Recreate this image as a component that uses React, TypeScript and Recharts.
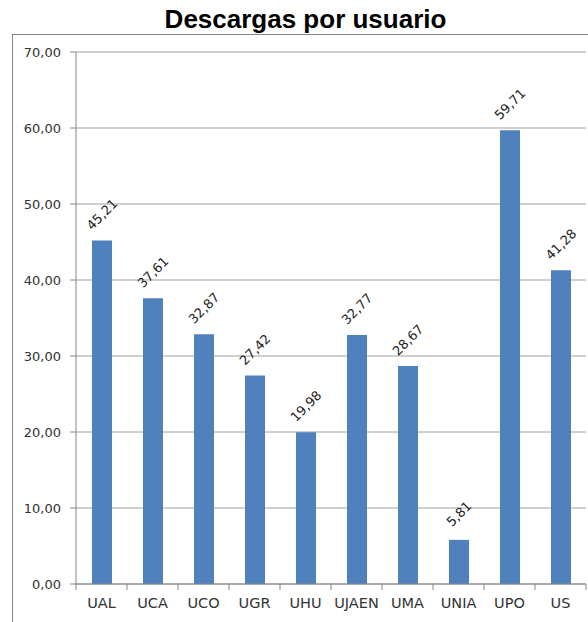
import { BarChart, Bar, XAxis, YAxis, CartesianGrid, LabelList } from "recharts"

// Descargas por usuario, por universidad
const universidades = ["UAL", "UCA", "UCO", "UGR", "UHU", "UJAEN", "UMA", "UNIA", "UPO", "US"]
const descargas = [45.21, 37.61, 32.87, 27.42, 19.98, 32.77, 28.67, 5.81, 59.71, 41.28]
const yTicks = [0, 10, 20, 30, 40, 50, 60, 70]

const data = universidades.map((u, i) => ({ uni: u, valor: descargas[i] }))

const W = 588
const H = 622
const PLOT_LEFT = 76
const PLOT_RIGHT = 2
const FONT = "'DejaVu Sans', sans-serif"

const fmt = (v: number) => v.toFixed(2).replace(".", ",")

const XTick = (props: any) => {
  const { x, y, payload } = props
  const band = (W - PLOT_LEFT - PLOT_RIGHT) / universidades.length
  const isLast = payload.index === universidades.length - 1
  return (
    <g>
      <line x1={x - band / 2} y1={y - 8} x2={x - band / 2} y2={y - 2} stroke="#868686" />
      {isLast && <line x1={x + band / 2} y1={y - 8} x2={x + band / 2} y2={y - 2} stroke="#868686" />}
      <text x={x} y={y + 16} textAnchor="middle" fill="#333" fontSize={14.5} fontFamily={FONT}>
        {payload.value}
      </text>
    </g>
  )
}

const RotLabel = (props: any) => {
  const { x, y, width, value } = props
  const cx = x + width / 2
  const cy = y - 26
  return (
    <text
      x={cx}
      y={cy}
      textAnchor="middle"
      dominantBaseline="central"
      transform={`rotate(-45 ${cx} ${cy})`}
      fill="#222"
      fontSize={13}
      fontFamily={FONT}
    >
      {fmt(value)}
    </text>
  )
}

export default function App() {
  return (
    <div style={{ position: "absolute", left: 0, top: 0, width: W, height: H, background: "#fff" }}>
      <div
        style={{
          position: "absolute",
          left: 12,
          top: 34,
          right: 0,
          bottom: 0,
          borderTop: "1px solid #868686",
          borderLeft: "1px solid #868686",
        }}
      />
      <div
        style={{
          position: "absolute",
          left: 23,
          right: 0,
          top: 4,
          textAlign: "center",
          fontFamily: "'Liberation Sans', Arial, sans-serif",
          fontWeight: "bold",
          fontSize: 26,
          lineHeight: "30px",
          color: "#000",
        }}
      >
        Descargas por usuario
      </div>
      <div style={{ position: "absolute", left: 0, top: 0 }}>
        <BarChart width={W} height={H} data={data} margin={{ top: 52, right: PLOT_RIGHT, left: 0, bottom: 0 }}>
          <CartesianGrid vertical={false} stroke="#a0a0a0" />
          <XAxis
            dataKey="uni"
            height={38}
            axisLine={{ stroke: "#868686" }}
            tickLine={false}
            tick={<XTick />}
            interval={0}
          />
          <YAxis
            width={PLOT_LEFT}
            domain={[0, 70]}
            ticks={yTicks}
            tickFormatter={fmt}
            axisLine={{ stroke: "#868686" }}
            tickLine={{ stroke: "#868686" }}
            tickSize={6}
            tickMargin={9}
            tick={{ fill: "#333", fontSize: 13, fontFamily: FONT }}
          />
          <Bar dataKey="valor" fill="#4f81bd" barSize={20} isAnimationActive={false}>
            <LabelList dataKey="valor" content={<RotLabel />} />
          </Bar>
        </BarChart>
      </div>
    </div>
  )
}
